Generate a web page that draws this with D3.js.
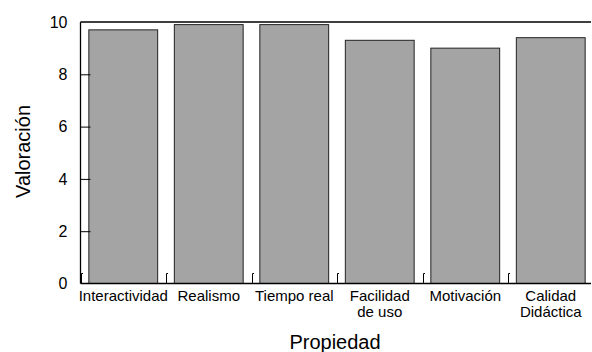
<!DOCTYPE html>
<html>
<head>
<meta charset="utf-8">
<script src="https://cdn.jsdelivr.net/npm/d3@7"></script>
<style>
  body { margin: 0; background: #fff; }
  text { font-family: "Liberation Sans", Arial, sans-serif; fill: #000; }
</style>
</head>
<body>
<script>
var categories = ["Interactividad", "Realismo", "Tiempo real", "Facilidad\nde uso", "Motivación", "Calidad\nDidáctica"];
var values = [9.7, 9.9, 9.9, 9.3, 9.0, 9.4];
var yTicks = [0, 2, 4, 6, 8, 10];

var margin = { top: 22, left: 80.5, bottom: 68.5 },
    width = 592,
    height = 352,
    plotBottom = height - margin.bottom;

var svg = d3.select("body")
    .append("svg")
    .attr("width", width)
    .attr("height", height);

var step = 85.5;
var x = d3.scaleBand()
    .domain(categories)
    .range([margin.left, margin.left + step * categories.length])
    .paddingInner(0.195)
    .paddingOuter(0.0975);

var y = d3.scaleLinear().domain([0, 10]).range([plotBottom, margin.top]);

// bars
svg.selectAll("rect.bar")
    .data(values)
    .enter().append("rect")
    .attr("class", "bar")
    .attr("x", function (d, i) { return x(categories[i]); })
    .attr("y", function (d) { return y(d); })
    .attr("width", x.bandwidth())
    .attr("height", function (d) { return plotBottom - y(d); })
    .attr("fill", "#a4a4a4")
    .attr("stroke", "#222")
    .attr("stroke-width", 1);

// top frame line
svg.append("line")
    .attr("x1", margin.left).attr("x2", 591)
    .attr("y1", y(10)).attr("y2", y(10))
    .attr("stroke", "#000").attr("stroke-width", 1.3);

// y axis (ticks inward)
var yAxis = svg.append("g")
    .attr("transform", "translate(" + margin.left + ",0)")
    .call(d3.axisLeft(y).tickValues(yTicks).tickSize(-10).tickPadding(13).tickFormat(d3.format("d")));
yAxis.select(".domain").attr("stroke", "#000").attr("stroke-width", 1.3).attr("d", "M0," + plotBottom + "V" + margin.top);
yAxis.selectAll(".tick line").attr("stroke", "#000");
yAxis.selectAll(".tick").filter(function (d) { return d === 0 || d === 10; }).select("line").remove();
yAxis.selectAll(".tick text").attr("font-size", 16).style("font-family", "Liberation Sans, Arial, sans-serif");

// x axis line
svg.append("line")
    .attr("x1", margin.left).attr("x2", 591)
    .attr("y1", plotBottom).attr("y2", plotBottom)
    .attr("stroke", "#000").attr("stroke-width", 1.3);

// small category boundary marks
svg.selectAll("path.sep")
    .data(categories)
    .enter().append("path")
    .attr("class", "sep")
    .attr("d", function (d) {
        var px = Math.round(x(d) - x.step() * x.paddingInner() / 2) + 0.5;
        return "M" + px + "," + plotBottom + "V" + (plotBottom - 10) + "h1.5";
    })
    .attr("fill", "none")
    .attr("stroke", "#000")
    .attr("stroke-width", 1);

// x labels
svg.selectAll("text.xl")
    .data(categories)
    .enter().append("text")
    .attr("class", "xl")
    .attr("text-anchor", "middle")
    .attr("font-size", 15)
    .attr("transform", function (d) { return "translate(" + (x(d) + x.bandwidth() / 2) + "," + (plotBottom + 17) + ")"; })
    .each(function (d) {
        var t = d3.select(this);
        d.split("\n").forEach(function (line, i) {
            t.append("tspan").attr("x", 0).attr("dy", i === 0 ? 0 : 16).text(line);
        });
    });

// axis titles
svg.append("text")
    .attr("x", 335).attr("y", 349)
    .attr("text-anchor", "middle")
    .attr("font-size", 20)
    .text("Propiedad");

svg.append("text")
    .attr("transform", "translate(30," + y(5.05) + ") rotate(-90)")
    .attr("text-anchor", "middle")
    .attr("font-size", 20)
    .text("Valoración");
</script>
</body>
</html>
